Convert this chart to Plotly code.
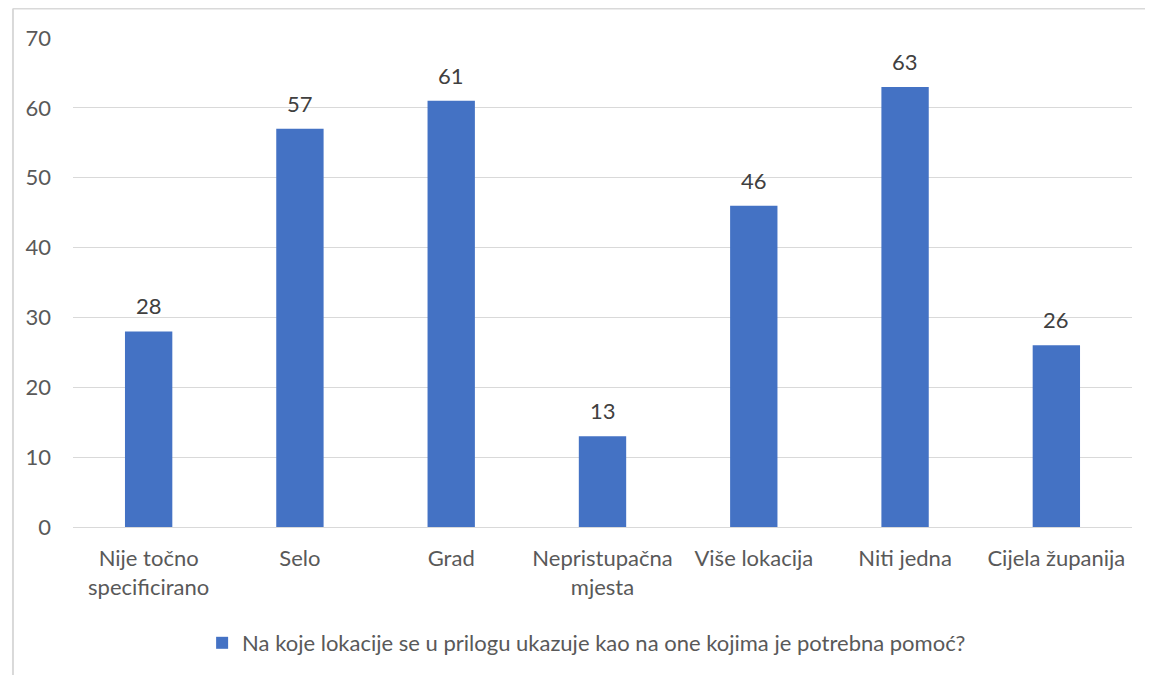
import plotly.graph_objects as go

# Data
categories = ["Nije točno<br>specificirano", "Selo", "Grad", "Nepristupačna<br>mjesta",
              "Više lokacija", "Niti jedna", "Cijela županija"]
values = [28, 57, 61, 13, 46, 63, 26]
series_name = "Na koje lokacije se u prilogu ukazuje kao na one kojima je potrebna pomoć?"
y_ticks = [0, 10, 20, 30, 40, 50, 60, 70]

FONT = "Lato"
FS = 22

fig = go.Figure(go.Bar(
    x=categories, y=values, name=series_name,
    marker=dict(color="#4472c4", line=dict(width=0)),
    showlegend=True,
))

# value labels above the bars
for c, v in zip(categories, values):
    fig.add_annotation(x=c, y=v, text=str(v), showarrow=False, yanchor="bottom",
                       yshift=10, font=dict(family=FONT, size=FS, color="#404040"))

fig.update_layout(
    width=1145, height=667,
    margin=dict(l=65, r=21, t=30, b=147),
    plot_bgcolor="white", paper_bgcolor="white",
    bargap=0.687,
    font=dict(family=FONT, size=FS, color="#595959"),
    xaxis=dict(showgrid=False, showline=True, linecolor="#d9d9d9", linewidth=1,
               ticks="", ticklabelstandoff=12, tickfont=dict(size=FS, color="#595959")),
    yaxis=dict(range=[0, 70], tickvals=y_ticks, showgrid=True, gridcolor="#d9d9d9",
               gridwidth=1, zeroline=False, showline=False, ticks="",
               ticklabelstandoff=21, tickfont=dict(size=FS, color="#595959")),
    legend=dict(orientation="h", x=0.485, xanchor="center", y=-0.2347, yanchor="middle",
                font=dict(size=FS, color="#595959"), itemwidth=30),
    shapes=[
        dict(type="line", xref="paper", yref="paper", x0=-0.0567, x1=1.2, y0=1.0602, y1=1.0602,
             line=dict(color="#d9d9d9", width=2)),
        dict(type="line", xref="paper", yref="paper", x0=-0.0567, x1=-0.0567, y0=1.0602, y1=-0.4,
             line=dict(color="#d9d9d9", width=2)),
    ],
)

fig.write_html("out.html")
